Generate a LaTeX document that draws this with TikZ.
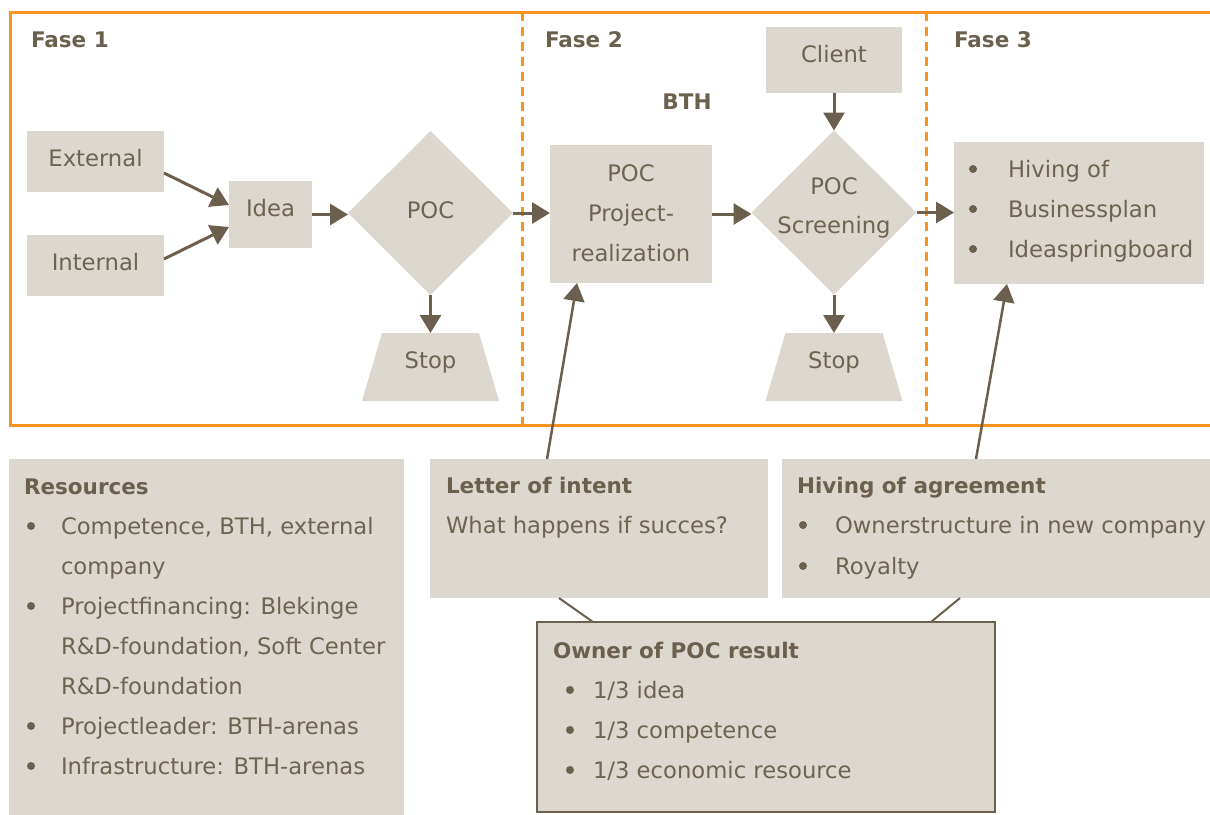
\documentclass[tikz,border=0pt]{standalone}
\usepackage{fontspec}
\setmainfont{DejaVu Sans}
\usetikzlibrary{arrows.meta,shapes.geometric}
\definecolor{boxfill}{HTML}{DCD8CF}
\definecolor{ink}{HTML}{6B604E}
\definecolor{txt}{HTML}{6E6351}
\definecolor{phaseline}{HTML}{F7941D}

\begin{document}
\begin{tikzpicture}[x=1pt,y=-1pt,
  every node/.style={inner sep=0pt,outer sep=0pt},
  shapebox/.style={rectangle,fill=boxfill},
  decision/.style={diamond,fill=boxfill,minimum width=165pt,minimum height=164pt},
  halt/.style={rectangle,minimum width=137pt,minimum height=68pt},
  lbl/.style={anchor=base,text=txt,font=\fontsize{22.7}{27}\selectfont},
  lblL/.style={lbl,anchor=base west},
  head/.style={lblL,text=ink,font=\fontsize{21.5}{26}\selectfont\bfseries},
  flow/.style={draw=ink,line width=3pt,-{Triangle[length=18pt,width=21pt]}},
  link/.style={draw=ink,line width=2pt},
  phase/.style={draw=phaseline,line width=3pt},
  phasecut/.style={phase,dash pattern=on 9pt off 6pt},
]
\useasboundingbox (0,0) rectangle (1210,814);

% phase frame
\draw[phase] (1215,12) -- (10,12) -- (10,425) -- (1215,425);
\draw[phasecut] (522,12) -- (522,425);
\draw[phasecut] (926,12) -- (926,425);

\node[head] (f1) at (31,47) {Fase 1};
\node[head] (f2) at (545,47) {Fase 2};
\node[head] (f3) at (954,47) {Fase 3};
\node[head,anchor=base] (bth) at (687,109) {BTH};

% flow shapes
\node[shapebox,minimum width=137pt,minimum height=61pt] (ext) at (95.5,161.5) {};
\node[shapebox,minimum width=137pt,minimum height=61pt] (int) at (95.5,265.5) {};
\node[shapebox,minimum width=83pt,minimum height=67pt] (idea) at (270.5,214.5) {};
\node[decision] (poc) at (430.5,213) {};
\node[halt] (stop1) at (430.5,367) {};
\node[shapebox,minimum width=162pt,minimum height=138pt] (pp) at (631,214) {};
\node[shapebox,minimum width=136pt,minimum height=66pt] (client) at (834,60) {};
\node[decision] (scr) at (834,212.5) {};
\node[halt] (stop2) at (834,367) {};
\node[shapebox,minimum width=250pt,minimum height=142pt] (hiv) at (1079,213) {};

% stop trapezoids, narrower at the top
\foreach \s in {stop1,stop2}
  \fill[boxfill] (\s.south west) -- (\s.south east)
    -- ([xshift=-20pt]\s.north east) -- ([xshift=20pt]\s.north west) -- cycle;

\node[lbl] (extT) at (95.5,166) {External};
\node[lbl] (intT) at (95.5,270) {Internal};
\node[lbl] (ideaT) at (270.5,216) {Idea};
\node[lbl] (pocT) at (430.5,218) {POC};
\node[lbl] (stop1T) at (430.5,368) {Stop};
\node[lbl] (ppA) at (631,181) {POC};
\node[lbl] (ppB) at (631,221) {Project-};
\node[lbl] (ppC) at (631,261) {realization};
\node[lbl] (clientT) at (834,62) {Client};
\node[lbl] (scrA) at (834,194) {POC};
\node[lbl] (scrB) at (834,233) {Screening};
\node[lbl] (stop2T) at (834,368) {Stop};
\node[lblL] (hivA) at (1008,177) {Hiving of};
\node[lblL] (hivB) at (1008,217) {Businessplan};
\node[lblL] (hivC) at (1008,257) {Ideaspringboard};
\foreach \yy in {177,217,257} \fill[ink] (973,\yy-8) circle (4pt);

% flow connectors
\draw[flow] ([yshift=-11.5pt]ext.east) -- ([yshift=9.5pt]idea.west);
\draw[flow] ([yshift=6.5pt]int.east) -- ([yshift=-12.5pt]idea.west);
\draw[flow] (idea.east) -- (idea.east -| poc.west);
\draw[flow] (poc.east) -- (poc.east -| pp.west);
\draw[flow] (pp.east) -- (pp.east -| scr.west);
\draw[flow] (scr.east) -- (scr.east -| hiv.west);
\draw[flow] (client.south) -- (scr.north);
\draw[flow] (poc.south) -- (stop1.north);
\draw[flow] (scr.south) -- (stop2.north);

% lower panels
\node[shapebox,minimum width=395pt,minimum height=356pt] (res) at (206.5,637) {};
\node[shapebox,minimum width=338pt,minimum height=139pt] (loi) at (599,528.5) {};
\node[shapebox,minimum width=428pt,minimum height=139pt] (hoa) at (996,528.5) {};

\draw[flow,line width=2.5pt] ([xshift=-52pt]loi.north) -- ([xshift=-54pt]pp.south);
\draw[flow,line width=2.5pt] ([xshift=-20pt]hoa.north) -- ([xshift=-72pt]hiv.south);

\node[shapebox,draw=ink,line width=2.5pt,minimum width=458pt,minimum height=190pt] (own) at (766,717) {};
\draw[link] ([xshift=-40pt]loi.south) -- ([xshift=-173pt]own.north);
\draw[link] ([xshift=-36pt]hoa.south) -- ([xshift=165pt]own.north);

% resources
\node[head] (resH) at (24,494) {Resources};
\node[lblL] (r1) at (61,534) {Competence, BTH, external};
\node[lblL] (r2) at (61,574) {company};
\node[lblL] (r3) at (61,614) {Projectfinancing: Blekinge};
\node[lblL] (r4) at (61,654) {R\&D-foundation, Soft Center};
\node[lblL] (r5) at (61,694) {R\&D-foundation};
\node[lblL] (r6) at (61,734) {Projectleader: BTH-arenas};
\node[lblL] (r7) at (61,774) {Infrastructure: BTH-arenas};
\foreach \yy in {534,614,734,774} \fill[ink] (31,\yy-8) circle (4pt);

% letter of intent
\node[head] (loiH) at (446,493) {Letter of intent};
\node[lblL] (loiT) at (446,533) {What happens if succes?};

% hiving of agreement
\node[head] (hoaH) at (797,493) {Hiving of agreement};
\node[lblL] (hoa1) at (835,533) {Ownerstructure in new company};
\node[lblL] (hoa2) at (835,574) {Royalty};
\foreach \yy in {533,574} \fill[ink] (803,\yy-8) circle (4pt);

% ownership
\node[head] (ownH) at (553,658) {Owner of POC result};
\node[lblL] (own1) at (593,698) {1/3 idea};
\node[lblL] (own2) at (593,738) {1/3 competence};
\node[lblL] (own3) at (593,778) {1/3 economic resource};
\foreach \yy in {698,738,778} \fill[ink] (570,\yy-8) circle (4pt);
\end{tikzpicture}
\end{document}
